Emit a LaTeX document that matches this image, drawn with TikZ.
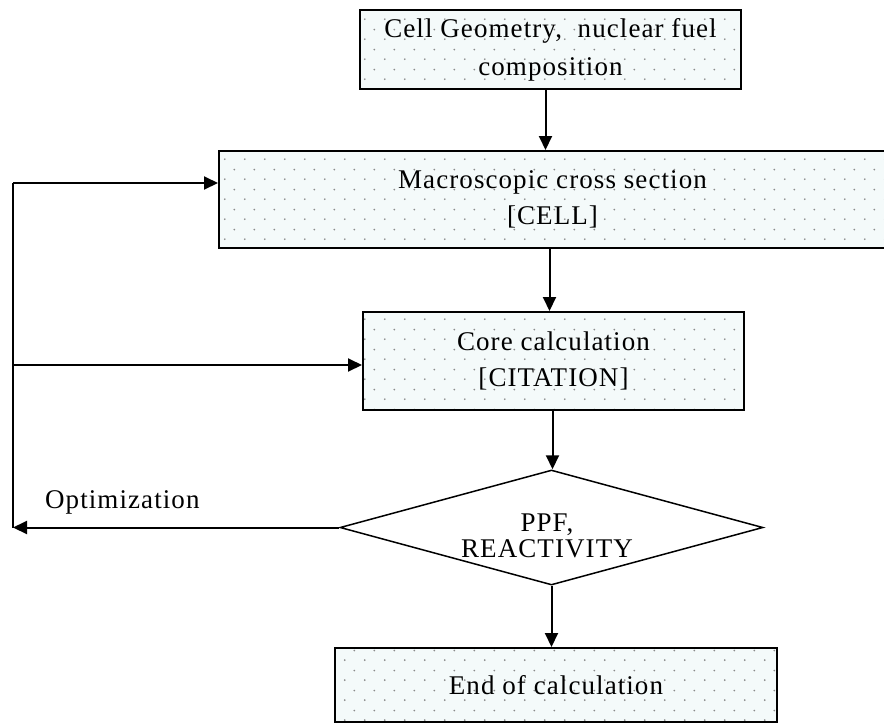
\documentclass[tikz,border=0pt]{standalone}
\usepackage{fontspec}
\setmainfont{Liberation Serif}[LetterSpace=4]
\usetikzlibrary{arrows.meta,shapes.geometric,patterns.meta}
\definecolor{boxfill}{HTML}{F4FAFA}
\definecolor{dotgray}{HTML}{8A8A8A}
\tikzdeclarepattern{
  name=mydots,
  type=uncolored,
  bounding box={(0pt,0pt) and (20pt,20pt)},
  tile size={(20pt,20pt)},
  code={\fill (5pt,5pt) circle (1pt); \fill (15pt,15pt) circle (1pt);}
}
\tikzset{
  box/.style={draw, line width=2pt, preaction={fill=boxfill}, pattern=mydots, pattern color=dotgray,
    rectangle, inner sep=0pt, align=center, font=\fontsize{27}{36}\selectfont},
  dec/.style={draw, line width=1.5pt, shape=diamond, inner sep=0pt},
  arr/.style={line width=2pt, -{Triangle[length=14pt,width=13pt]}},
  ln/.style={line width=2pt},
  lbl/.style={font=\fontsize{27}{32}\selectfont, align=center, inner sep=0pt}
}
\begin{document}
\begin{tikzpicture}[x=1pt,y=-1pt]
\useasboundingbox (0,0) rectangle (884,724);
\begin{scope}
\clip (0,0) rectangle (884,724);
\node[box, minimum width=381pt, minimum height=79pt] (geom) at (550.5,49.5)
  {Cell Geometry,\ \ nuclear fuel\\[2pt] composition};
\node[box, minimum width=667pt, minimum height=97pt] (macro) at (552.5,199.5)
  {Macroscopic cross section\\[0pt] [CELL]};
\node[box, minimum width=381pt, minimum height=98pt] (core) at (553.5,361)
  {Core calculation\\[0pt] [CITATION]};
\node[dec, minimum width=423pt, minimum height=115pt] (dia) at (551.5,527.5) {};
\node[lbl] (diatext) at (547,536) {PPF,\\[-6pt] REACTIVITY};
\node[box, minimum width=442pt, minimum height=74pt] (end) at (556,685)
  {End of calculation};
\node[lbl, anchor=west] (opt) at (45,502) {Optimization};
\end{scope}
\coordinate (lt) at (13,183);
\coordinate (lb) at (13,527.5);
\draw[arr] ([xshift=-5pt]geom.south) -- ([xshift=-5pt]geom.south |- macro.north);
\draw[arr] ([xshift=-3pt]macro.south) -- ([xshift=-3pt]macro.south |- core.north);
\draw[arr] ([xshift=-1pt]core.south) -- ([xshift=-1pt]core.south |- dia.north);
\draw[arr] (dia.south) -- (dia.south |- end.north);
\draw[arr] (dia.west) -- (lb);
\draw[ln] (lb) -- (lt);
\draw[arr] (lt) -- (lt -| macro.west);
\draw[arr] ([yshift=-4pt]core.west -| lt) -- ([yshift=-4pt]core.west);
\end{tikzpicture}
\end{document}
